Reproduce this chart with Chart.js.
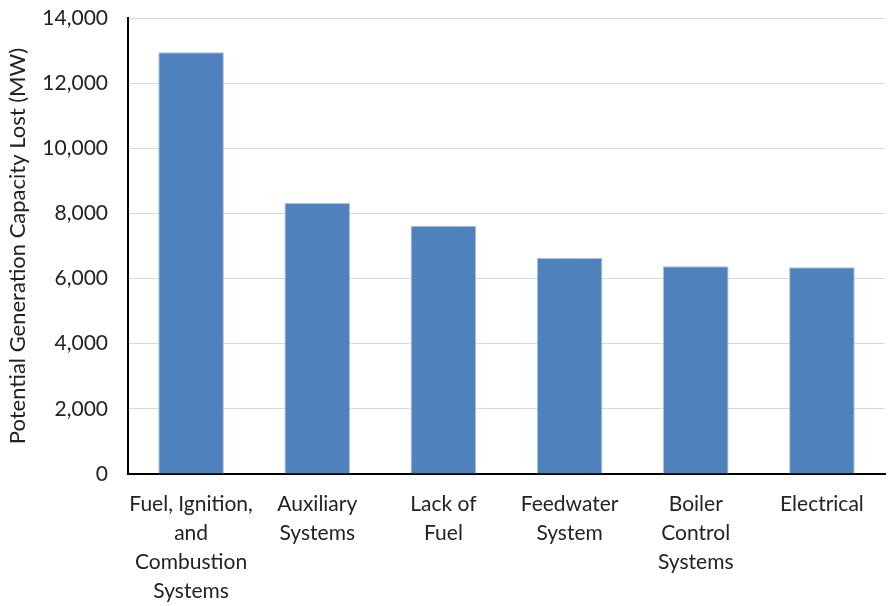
<!DOCTYPE html>
<html>
<head>
<meta charset="utf-8">
<script src="https://cdn.jsdelivr.net/npm/chart.js@4/dist/chart.umd.min.js"></script>
<style>
  html, body { margin:0; padding:0; background:#fff; }
  #wrap { width:888px; height:606px; position:relative; }
</style>
</head>
<body>
<div id="wrap"><canvas id="c" width="888" height="606"></canvas></div>
<script>
/* Potential generation capacity lost, by cause */
var categories = [
  ['Fuel, Ignition,', 'and', 'Combustion', 'Systems'],
  ['Auxiliary', 'Systems'],
  ['Lack of', 'Fuel'],
  ['Feedwater', 'System'],
  ['Boiler', 'Control', 'Systems'],
  ['Electrical']
];
var capacityLost = [12950, 8320, 7620, 6630, 6380, 6350];
var yTicks = [0, 2000, 4000, 6000, 8000, 10000, 12000, 14000];
var yTitle = 'Potential Generation Capacity Lost (MW)';

var FONT = 'Lato, "Open Sans", sans-serif';

new Chart(document.getElementById('c'), {
  type: 'bar',
  data: {
    labels: categories,
    datasets: [{
      data: capacityLost,
      backgroundColor: '#4F81BD',
      borderColor: '#A9C1E0',
      borderWidth: 1,
      barPercentage: 0.52,
      categoryPercentage: 1
    }]
  },
  options: {
    responsive: false,
    animation: false,
    layout: { autoPadding: false, padding: { top: 18, right: 3, left: 5, bottom: 0 } },
    plugins: { legend: { display: false }, tooltip: { enabled: false } },
    scales: {
      x: {
        grid: { display: false, drawTicks: false },
        border: { color: '#000', width: 2 },
        ticks: { color: '#222', font: { family: FONT, size: 21, lineHeight: 1.38 }, padding: 16, maxRotation: 0, autoSkip: false },
        // fixed band under the axis; drop the auto label padding
        afterFit: function(s){ s.height = 132; s.paddingTop = 0; s.paddingBottom = 0; }
      },
      y: {
        min: 0, max: 14000,
        afterBuildTicks: function(s){ s.ticks = yTicks.map(function(v){ return {value:v}; }); },
        grid: { color: '#D9D9D9', lineWidth: 1, drawTicks: false },
        border: { color: '#000', width: 2 },
        ticks: {
          color: '#222', padding: 20,
          font: { family: FONT, size: 21 },
          callback: function(v){ return v.toLocaleString('en-US'); }
        },
        title: { display: true, text: yTitle, color: '#222', font: { family: FONT, size: 22 }, padding: { top: 0, bottom: 4 } },
        afterFit: function(s){ s.width = 123; s.paddingTop = 0; s.paddingBottom = 0; }
      }
    }
  }
});
</script>
</body>
</html>
